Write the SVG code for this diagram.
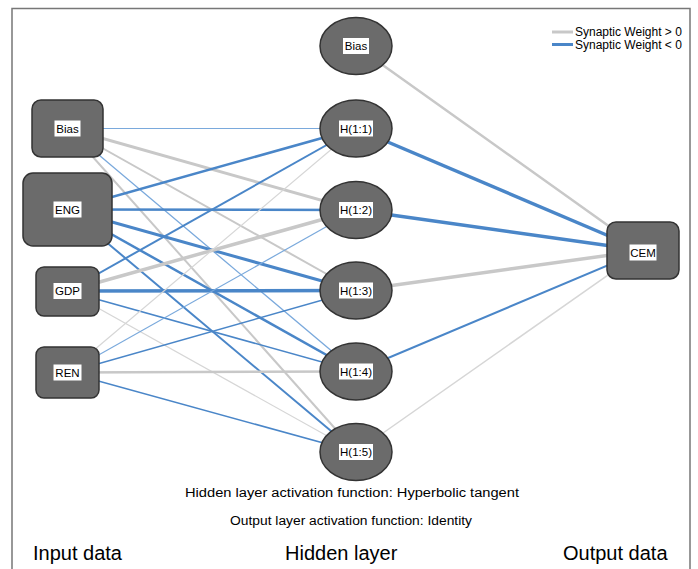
<svg xmlns="http://www.w3.org/2000/svg" width="698" height="569" viewBox="0 0 698 569">
<style>
text{font-family:"Liberation Sans",Arial,sans-serif;fill:#000}
.lbl{font-size:11.5px;text-anchor:middle}
.lb{fill:#fff}
.node{fill:#6b6b6b;stroke:#333;stroke-width:1.5}
.pos{stroke:#c8c8c8;fill:none}
.neg{stroke:#4a86c8;fill:none}
.negl{stroke:#7aa9dc;fill:none}
.posl{stroke:#d6d6d6;fill:none}
.cap{font-size:20px}
.act{font-size:12.5px;text-anchor:middle}
</style>
<rect width="698" height="569" fill="#fff"/>
<path d="M12,569 V8.5 H690 V569" fill="none" stroke="#777" stroke-width="1.5"/>
<g id="legend">
<line x1="552" y1="32" x2="573" y2="32" class="pos" stroke-width="3"/>
<line x1="552" y1="44.5" x2="573" y2="44.5" class="neg" stroke-width="3"/>
<text x="575" y="36" font-size="12">Synaptic Weight &gt; 0</text>
<text x="575" y="48.5" font-size="12">Synaptic Weight &lt; 0</text>
</g>
<g id="connectors">
<line x1="67.5" y1="128.5" x2="356" y2="128.5" class="negl" stroke-width="1.2"/>
<line x1="67.5" y1="128.5" x2="356" y2="210" class="pos" stroke-width="3"/>
<line x1="67.5" y1="128.5" x2="356" y2="290.5" class="pos" stroke-width="2"/>
<line x1="67.5" y1="128.5" x2="356" y2="371.5" class="negl" stroke-width="1.3"/>
<line x1="67.5" y1="128.5" x2="356" y2="452" class="pos" stroke-width="2"/>
<line x1="67.5" y1="209.5" x2="356" y2="128.5" class="neg" stroke-width="2.5"/>
<line x1="67.5" y1="209.5" x2="356" y2="210" class="neg" stroke-width="2.5"/>
<line x1="67.5" y1="209.5" x2="356" y2="290.5" class="neg" stroke-width="3"/>
<line x1="67.5" y1="209.5" x2="356" y2="371.5" class="neg" stroke-width="2.5"/>
<line x1="67.5" y1="209.5" x2="356" y2="452" class="neg" stroke-width="2"/>
<line x1="67.5" y1="291" x2="356" y2="128.5" class="neg" stroke-width="2"/>
<line x1="67.5" y1="291" x2="356" y2="210" class="pos" stroke-width="3.5"/>
<line x1="67.5" y1="291" x2="356" y2="290.5" class="neg" stroke-width="3.5"/>
<line x1="67.5" y1="291" x2="356" y2="371.5" class="neg" stroke-width="1.5"/>
<line x1="67.5" y1="291" x2="356" y2="452" class="posl" stroke-width="1.2"/>
<line x1="67.5" y1="372.5" x2="356" y2="128.5" class="posl" stroke-width="1.2"/>
<line x1="67.5" y1="372.5" x2="356" y2="210" class="negl" stroke-width="1.2"/>
<line x1="67.5" y1="372.5" x2="356" y2="290.5" class="neg" stroke-width="1.5"/>
<line x1="67.5" y1="372.5" x2="356" y2="371.5" class="pos" stroke-width="2.5"/>
<line x1="67.5" y1="372.5" x2="356" y2="452" class="neg" stroke-width="1.5"/>
<line x1="356" y1="46" x2="643" y2="250.5" class="pos" stroke-width="2.5"/>
<line x1="356" y1="128.5" x2="643" y2="250.5" class="neg" stroke-width="3.5"/>
<line x1="356" y1="210" x2="643" y2="250.5" class="neg" stroke-width="3.5"/>
<line x1="356" y1="290.5" x2="643" y2="250.5" class="pos" stroke-width="3.5"/>
<line x1="356" y1="371.5" x2="643" y2="250.5" class="neg" stroke-width="2"/>
<line x1="356" y1="452" x2="643" y2="250.5" class="posl" stroke-width="1.5"/>
</g>
<g id="in-bias">
<rect x="32" y="100" width="71" height="57" rx="9" class="node"/>
<rect x="54.5" y="120.5" width="26" height="16" class="lb"/>
<text x="67.5" y="132.5" class="lbl">Bias</text>
</g>
<g id="in-eng">
<rect x="23" y="173" width="89" height="73" rx="10" class="node"/>
<rect x="53.5" y="201.5" width="28" height="16" class="lb"/>
<text x="67.5" y="213.5" class="lbl">ENG</text>
</g>
<g id="in-gdp">
<rect x="36" y="267" width="63" height="49" rx="8" class="node"/>
<rect x="53.5" y="283" width="28" height="16" class="lb"/>
<text x="67.5" y="295" class="lbl">GDP</text>
</g>
<g id="in-ren">
<rect x="36" y="347" width="63" height="51" rx="8" class="node"/>
<rect x="53.5" y="364.5" width="28" height="16" class="lb"/>
<text x="67.5" y="376.5" class="lbl">REN</text>
</g>
<g id="h-bias">
<ellipse cx="356" cy="46" rx="36" ry="28.5" class="node"/>
<rect x="343" y="38" width="26" height="16" class="lb"/>
<text x="356" y="50" class="lbl">Bias</text>
</g>
<g id="h1">
<ellipse cx="356" cy="128.5" rx="36" ry="28.5" class="node"/>
<rect x="339" y="120.5" width="34" height="16" class="lb"/>
<text x="356" y="132.5" class="lbl">H(1:1)</text>
</g>
<g id="h2">
<ellipse cx="356" cy="210" rx="36" ry="28.5" class="node"/>
<rect x="339" y="202" width="34" height="16" class="lb"/>
<text x="356" y="214" class="lbl">H(1:2)</text>
</g>
<g id="h3">
<ellipse cx="356" cy="290.5" rx="36" ry="28.5" class="node"/>
<rect x="339" y="282.5" width="34" height="16" class="lb"/>
<text x="356" y="294.5" class="lbl">H(1:3)</text>
</g>
<g id="h4">
<ellipse cx="356" cy="371.5" rx="36" ry="28.5" class="node"/>
<rect x="339" y="363.5" width="34" height="16" class="lb"/>
<text x="356" y="375.5" class="lbl">H(1:4)</text>
</g>
<g id="h5">
<ellipse cx="356" cy="452" rx="36" ry="28.5" class="node"/>
<rect x="339" y="444" width="34" height="16" class="lb"/>
<text x="356" y="456" class="lbl">H(1:5)</text>
</g>
<g id="out-cem">
<rect x="607" y="222" width="72" height="57" rx="9" class="node"/>
<rect x="629.5" y="244.5" width="27" height="16" class="lb"/>
<text x="643" y="256.5" class="lbl">CEM</text>
</g>
<text x="352" y="497" class="act" textLength="334" lengthAdjust="spacingAndGlyphs">Hidden layer activation function: Hyperbolic tangent</text>
<text x="351" y="525" class="act" textLength="242" lengthAdjust="spacingAndGlyphs">Output layer activation function: Identity</text>
<text x="33" y="560" class="cap">Input data</text>
<text x="285" y="560" class="cap">Hidden layer</text>
<text x="563" y="560" class="cap">Output data</text>
</svg>
